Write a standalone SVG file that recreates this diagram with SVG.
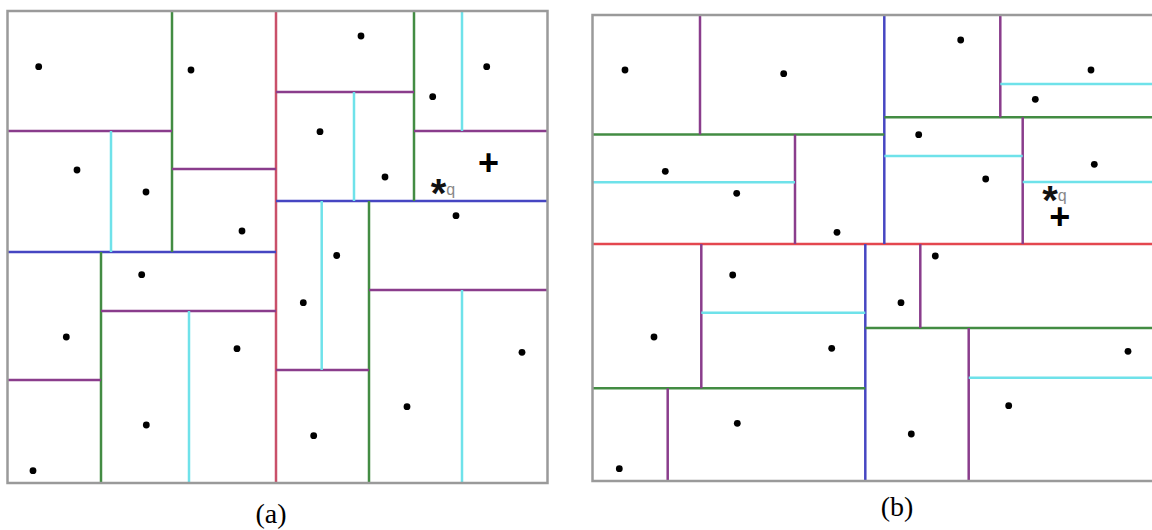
<svg xmlns="http://www.w3.org/2000/svg" width="1152" height="530" viewBox="0 0 1152 530">
<style>
.bd{stroke:#9a9a9a;stroke-width:2.5;fill:none}
.rd{stroke:#c9506a;stroke-width:2.5}
.rd2{stroke:#e4474f;stroke-width:2.5}
.bl{stroke:#4646c2;stroke-width:2.5}
.gr{stroke:#438c43;stroke-width:2.5}
.mg{stroke:#8a3d8c;stroke-width:2.5}
.cy{stroke:#6fe2ea;stroke-width:2.5}
.dt circle{fill:#000}
.lbl{font-family:"Liberation Sans",sans-serif;font-family:"Liberation Serif",serif;font-size:28px;fill:#000;text-anchor:middle}
.st{font-family:"Liberation Sans",sans-serif;font-weight:bold;font-size:40px;fill:#111}
.q{font-weight:normal;font-size:16px;fill:#888}
.pl{font-family:"Liberation Sans",sans-serif;font-weight:bold;font-size:36px;fill:#000;text-anchor:middle}
</style>
<rect width="1152" height="530" fill="#fff"/>
<g id="panel-a">
<g id="a-lines">
<line class="rd" x1="276" y1="11" x2="276" y2="483"/>
<line class="bl" x1="7.5" y1="252" x2="276" y2="252"/>
<line class="bl" x1="276" y1="201" x2="547.5" y2="201"/>
<line class="gr" x1="172" y1="11" x2="172" y2="252"/>
<line class="gr" x1="101" y1="252" x2="101" y2="483"/>
<line class="gr" x1="414" y1="11" x2="414" y2="201"/>
<line class="gr" x1="369" y1="201" x2="369" y2="483"/>
<line class="mg" x1="7.5" y1="131" x2="172" y2="131"/>
<line class="mg" x1="172" y1="169" x2="276" y2="169"/>
<line class="mg" x1="101" y1="311" x2="276" y2="311"/>
<line class="mg" x1="7.5" y1="380" x2="101" y2="380"/>
<line class="mg" x1="276" y1="92" x2="414" y2="92"/>
<line class="mg" x1="414" y1="131" x2="547.5" y2="131"/>
<line class="mg" x1="276" y1="370" x2="369" y2="370"/>
<line class="mg" x1="369" y1="290" x2="547.5" y2="290"/>
<line class="cy" x1="111" y1="131" x2="111" y2="252"/>
<line class="cy" x1="354" y1="92" x2="354" y2="201"/>
<line class="cy" x1="462" y1="11" x2="462" y2="131"/>
<line class="cy" x1="321.7" y1="201" x2="321.7" y2="370"/>
<line class="cy" x1="189" y1="311" x2="189" y2="483"/>
<line class="cy" x1="462" y1="290" x2="462" y2="483"/>
<rect class="bd" x="7.5" y="11" width="540" height="472"/>
</g>
<g id="a-points" class="dt">
<circle cx="38.7" cy="66.7" r="3.4"/><circle cx="191" cy="70" r="3.4"/><circle cx="77" cy="170" r="3.4"/>
<circle cx="146" cy="192" r="3.4"/><circle cx="242" cy="231" r="3.4"/><circle cx="361" cy="36" r="3.4"/>
<circle cx="486.7" cy="66.7" r="3.4"/><circle cx="432.7" cy="96.7" r="3.4"/><circle cx="320" cy="131.7" r="3.4"/>
<circle cx="385" cy="177" r="3.4"/><circle cx="456" cy="215.7" r="3.4"/><circle cx="336.7" cy="255.5" r="3.4"/>
<circle cx="141.7" cy="274.7" r="3.4"/><circle cx="66.3" cy="337" r="3.4"/><circle cx="237" cy="348.7" r="3.4"/>
<circle cx="146.3" cy="425" r="3.4"/><circle cx="33" cy="470.7" r="3.4"/><circle cx="303.3" cy="302.7" r="3.4"/>
<circle cx="522" cy="352.3" r="3.4"/><circle cx="407" cy="406.7" r="3.4"/><circle cx="313.7" cy="435.7" r="3.4"/>
</g>
<g id="a-query">
<text class="st" x="430.7" y="207">*<tspan class="q" dy="-12">q</tspan></text>
<text class="pl" x="488.5" y="175">+</text>
</g>
<text class="lbl" x="271" y="523">(a)</text>
</g>
<g id="panel-b">
<g id="b-lines">
<line class="rd2" x1="592.5" y1="244" x2="1152" y2="244"/>
<line class="bl" x1="884.3" y1="15" x2="884.3" y2="244"/>
<line class="bl" x1="865.3" y1="244" x2="865.3" y2="481"/>
<line class="gr" x1="592.5" y1="134.5" x2="884.3" y2="134.5"/>
<line class="gr" x1="884.3" y1="117.3" x2="1152" y2="117.3"/>
<line class="gr" x1="592.5" y1="388.3" x2="865.3" y2="388.3"/>
<line class="gr" x1="865.3" y1="328" x2="1152" y2="328"/>
<line class="mg" x1="700" y1="15" x2="700" y2="134.5"/>
<line class="mg" x1="795" y1="134.5" x2="795" y2="244"/>
<line class="mg" x1="1000.3" y1="15" x2="1000.3" y2="117.3"/>
<line class="mg" x1="1022.7" y1="117.3" x2="1022.7" y2="244"/>
<line class="mg" x1="701.3" y1="244" x2="701.3" y2="388.3"/>
<line class="mg" x1="667.7" y1="388.3" x2="667.7" y2="481"/>
<line class="mg" x1="920.3" y1="244" x2="920.3" y2="328"/>
<line class="mg" x1="968.7" y1="328" x2="968.7" y2="481"/>
<line class="cy" x1="592.5" y1="182.3" x2="795" y2="182.3"/>
<line class="cy" x1="1000.3" y1="84" x2="1152" y2="84"/>
<line class="cy" x1="884.3" y1="156" x2="1022.7" y2="156"/>
<line class="cy" x1="1022.7" y1="182" x2="1152" y2="182"/>
<line class="cy" x1="701.3" y1="312.7" x2="865.3" y2="312.7"/>
<line class="cy" x1="968.7" y1="377.7" x2="1152" y2="377.7"/>
<path class="bd" d="M1152 15 H592.5 V481 H1152"/>
</g>
<g id="b-points" class="dt">
<circle cx="625" cy="70" r="3.4"/><circle cx="783.7" cy="73.7" r="3.4"/><circle cx="665.3" cy="171.3" r="3.4"/>
<circle cx="736.7" cy="193.3" r="3.4"/><circle cx="837" cy="232.3" r="3.4"/><circle cx="960.7" cy="40" r="3.4"/>
<circle cx="1091" cy="70" r="3.4"/><circle cx="1035.3" cy="99.3" r="3.4"/><circle cx="918.7" cy="134.7" r="3.4"/>
<circle cx="985.7" cy="179" r="3.4"/><circle cx="1094.3" cy="164.3" r="3.4"/><circle cx="732.7" cy="275" r="3.4"/>
<circle cx="654" cy="337" r="3.4"/><circle cx="831.7" cy="348.3" r="3.4"/><circle cx="737.3" cy="423.3" r="3.4"/>
<circle cx="619.3" cy="468.7" r="3.4"/><circle cx="935.3" cy="256" r="3.4"/><circle cx="901" cy="302.7" r="3.4"/>
<circle cx="1128" cy="351.3" r="3.4"/><circle cx="1008.7" cy="405.7" r="3.4"/><circle cx="911.3" cy="434" r="3.4"/>
</g>
<g id="b-query">
<text class="st" x="1042.2" y="214">*<tspan class="q" dy="-13">q</tspan></text>
<text class="pl" x="1059.7" y="229">+</text>
</g>
<text class="lbl" x="897" y="516">(b)</text>
</g>
</svg>
